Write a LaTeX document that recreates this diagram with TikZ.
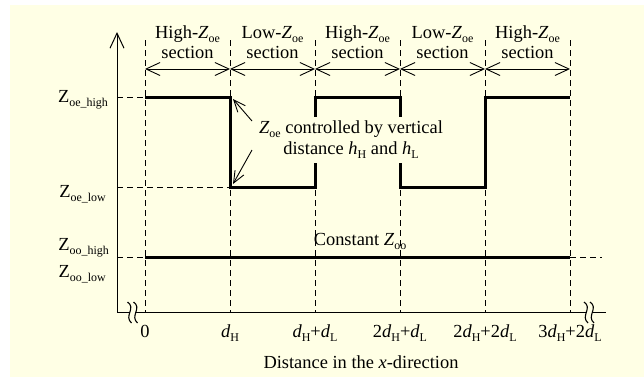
\documentclass[tikz,border=0pt]{standalone}
\usepackage{fontspec}
\setmainfont{Liberation Serif}
\usetikzlibrary{arrows.meta}
\definecolor{bgyellow}{RGB}{255,255,229}
\newcommand\sbs[1]{\raisebox{-0.22em}{\fontsize{12}{12}\selectfont #1}}
\newcommand\vZ{\textit{Z}}
\newcommand\vd{\textit{d}}
\newcommand\vh{\textit{h}}
\begin{document}
\begin{tikzpicture}[x=1bp,y=-1bp,
  font=\fontsize{18.5}{21}\selectfont,
  thinl/.style={line width=1bp},
  dashv/.style={line width=1bp, dash pattern=on 6bp off 4bp},
  thickl/.style={line width=3bp},
  bigbarb/.style={{Straight Barb[length=14bp,width=13bp]}-{Straight Barb[length=14bp,width=13bp]}, line width=0.9bp},
  axisarrow/.style={-{Straight Barb[length=15bp,width=14bp]}, line width=1bp},
  notearrow/.style={-{Straight Barb[length=12bp,width=10bp]}, line width=0.9bp},
  brk/.style={line width=1.1bp},
  lbl/.style={anchor=base, inner sep=0pt},
  ylbl/.style={anchor=base east, inner sep=0pt}]
\useasboundingbox (0,0) rectangle (644,387);
\fill[white] (0,0) rectangle (644,387);
\fill[bgyellow] (10,5) rectangle (644,377);

% coordinates
\foreach \i/\x in {0/145,1/230,2/315,3/400,4/485,5/570}{
  \coordinate (t\i) at (\x,40);
  \coordinate (b\i) at (\x,312);
  \coordinate (a\i) at (\x,69);
  \coordinate (h\i) at (\x,97);
  \coordinate (l\i) at (\x,187);
  \coordinate (c\i) at (\x,257);
}
\coordinate (o) at (117,312);
\coordinate (ytop) at (117,32);
\coordinate (yh) at (117,97);
\coordinate (yl) at (117,187);
\coordinate (yc) at (117,257);
\coordinate (cend) at (602,257);

% dashed verticals
\foreach \i in {0,...,5}{ \draw[dashv] (t\i) -- (b\i); }
% dashed horizontals
\draw[dashv] (yh) -- (h0);
\draw[dashv] (yl) -- (l1);
\draw[dashv] (yc) -- (c0);
\draw[dashv] (c5) -- (cend);

% section arrows
\foreach \i/\j in {0/1,1/2,2/3,3/4,4/5}{ \draw[bigbarb] (a\i) -- (a\j); }

% axes
\draw[axisarrow] (o) -- (ytop);
\coordinate (xb1) at (130,312);
\coordinate (xb2) at (135,312);
\coordinate (xb3) at (587,312);
\coordinate (xb4) at (592,312);
\coordinate (xend) at (606,312);
\draw[thinl] (o) -- (xb1);
\draw[thinl] (xb2) -- (xb3);
\draw[thinl] (xb4) -- (xend);
\foreach \x in {129.5,135.5,586,592}{
  \draw[brk] (\x-2,302) .. controls (\x+7,308) and (\x-6,316) .. (\x+2,323);
}

% Zoe curve
\draw[thickl, line cap=butt, line join=miter] (h0) -- (h1) -- (l1) -- (l2) -- (h2) -- (h3) -- (l3) -- (l4) -- (h4) -- (h5);
% Zoo line
\draw[thickl] (c0) -- (c5);

% annotation
\node[fill=bgyellow, align=center, inner xsep=3bp, inner ysep=4bp] (note) at (351,140)
  {\vZ\sbs{oe} controlled by vertical\\distance \vh\sbs{H} and \vh\sbs{L}};
\coordinate (n1) at (252,121);
\coordinate (n2) at (252,150);
\coordinate (k1) at (233,99);
\coordinate (k2) at (233,184);
\draw[notearrow] (n1) -- (k1);
\draw[notearrow] (n2) -- (k2);

% section labels
\foreach \x/\s in {187.5/High,272.5/Low,357.5/High,442.5/Low,527.5/High}{
  \node[lbl] at (\x,38) {\s-\vZ\sbs{oe}};
  \node[lbl] at (\x,58) {section};
}

% y labels
\node[ylbl] (zoh) at (108,102) {Z\sbs{oe\_high}};
\node[ylbl] (zol) at (106,197) {Z\sbs{oe\_low}};
\node[ylbl] (zooh) at (109,250) {Z\sbs{oo\_high}};
\node[ylbl] (zool) at (106,277) {Z\sbs{oo\_low}};

% constant label
\node[lbl] (const) at (360,245) {Constant \vZ\sbs{oo}};

% tick labels
\node[lbl] (x0) at (145,337) {0};
\node[lbl] (x1) at (230,337) {\vd\sbs{H}};
\node[lbl] (x2) at (315,337) {\vd\sbs{H}+\vd\sbs{L}};
\node[lbl] (x3) at (400,337) {2\vd\sbs{H}+\vd\sbs{L}};
\node[lbl] (x4) at (485,337) {2\vd\sbs{H}+2\vd\sbs{L}};
\node[lbl] (x5) at (570,337) {3\vd\sbs{H}+2\vd\sbs{L}};

\node[lbl] (xtitle) at (361,368) {Distance in the \textit{x}-direction};
\end{tikzpicture}
\end{document}
